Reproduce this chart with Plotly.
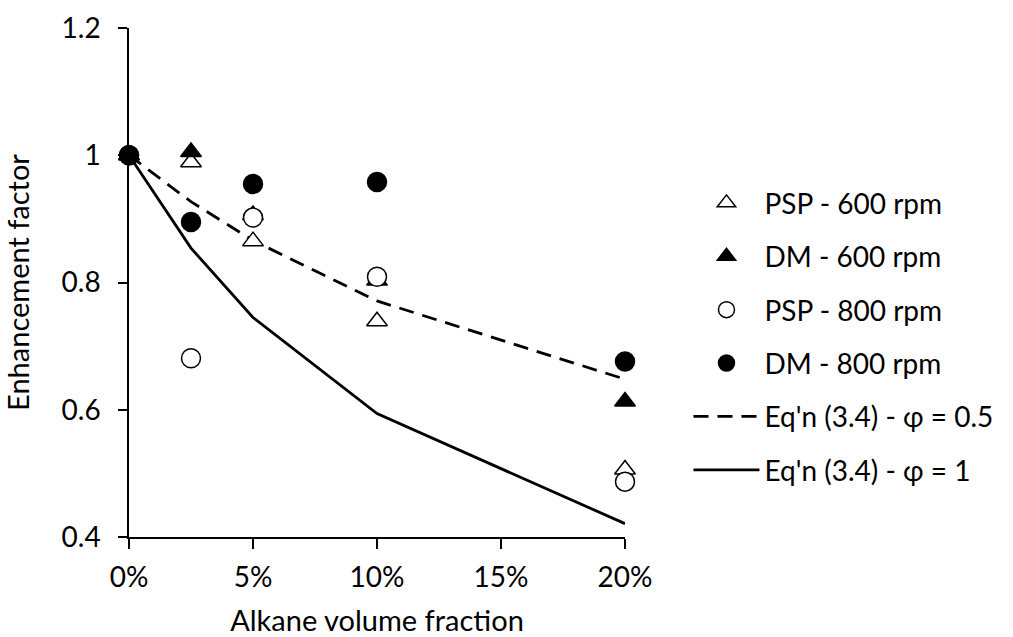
import plotly.graph_objects as go

x_frac = [0.0, 0.025, 0.05, 0.10, 0.20]
psp_600 = [1.0, 0.989, 0.865, 0.739, 0.506]
dm_600 = [1.0, 1.005, 0.906, 0.803, 0.613]
psp_800 = [1.0, 0.681, 0.902, 0.809, 0.487]
dm_800 = [1.0, 0.895, 0.955, 0.958, 0.676]
eq_phi05 = [1.0, 0.927, 0.866, 0.771, 0.648]
eq_phi1 = [1.0, 0.854, 0.745, 0.594, 0.421]

x_ticks = [0.0, 0.05, 0.10, 0.15, 0.20]
x_ticktext = ["0%", "5%", "10%", "15%", "20%"]
y_ticks = [0.4, 0.6, 0.8, 1.0, 1.2]
y_ticktext = ["0.4", "0.6", "0.8", "1", "1.2"]

FONT = "Lato, 'Open Sans', sans-serif"

fig = go.Figure()

def marker_trace(y, name, symbol, filled, rank):
    return go.Scatter(
        x=x_frac, y=y, mode="markers", name=name, legendrank=rank,
        legendgroup=f"g{rank}", cliponaxis=False,
        marker=dict(symbol=symbol, size=18 if "triangle" in symbol else 19,
                    color="black" if filled else "white",
                    line=dict(color="black", width=1.5)),
    )

fig.add_trace(go.Scatter(x=x_frac, y=eq_phi1, mode="lines", name="Eq'n (3.4) - φ = 1",
                         legendrank=6, legendgroup="g6", cliponaxis=False,
                         line=dict(color="black", width=2.8)))
fig.add_trace(go.Scatter(x=x_frac, y=eq_phi05, mode="lines", name="Eq'n (3.4) - φ = 0.5",
                         legendrank=5, legendgroup="g5", cliponaxis=False,
                         line=dict(color="black", width=2.8, dash="15px,9px")))
fig.add_trace(marker_trace(psp_600, "PSP - 600 rpm", "triangle-up", False, 1))
fig.add_trace(marker_trace(dm_600, "DM - 600 rpm", "triangle-up", True, 2))
fig.add_trace(marker_trace(psp_800, "PSP - 800 rpm", "circle", False, 3))
fig.add_trace(marker_trace(dm_800, "DM - 800 rpm", "circle", True, 4))

fig.update_layout(
    width=1013, height=637,
    margin=dict(l=129, r=388, t=28, b=100),
    paper_bgcolor="white", plot_bgcolor="white",
    font=dict(family=FONT, size=28, color="black"),
    showlegend=True,
    legend=dict(
        x=1.128, y=0.705, xanchor="left", yanchor="top",
        traceorder="grouped", tracegroupgap=14,
        itemwidth=66, font=dict(size=28, family=FONT),
        bgcolor="rgba(0,0,0,0)",
    ),
    xaxis=dict(
        range=[0, 0.2], tickvals=x_ticks, ticktext=x_ticktext, automargin=False,
        showgrid=False, zeroline=False, showline=True, linecolor="black", linewidth=1.5,
        ticks="outside", ticklen=10, tickwidth=1.5, tickcolor="black",
        tickfont=dict(size=28), ticklabelstandoff=5,
        title=dict(text="Alkane volume fraction", font=dict(size=29), standoff=20),
    ),
    yaxis=dict(
        range=[0.4, 1.2], tickvals=y_ticks, ticktext=y_ticktext, automargin=False,
        showgrid=False, zeroline=False, showline=True, linecolor="black", linewidth=1.5,
        ticks="outside", ticklen=9, tickwidth=1.5, tickcolor="black",
        tickfont=dict(size=28), ticklabelstandoff=12,
        title=dict(text="Enhancement factor", font=dict(size=29), standoff=27),
    ),
)

fig.write_html("out.html")
